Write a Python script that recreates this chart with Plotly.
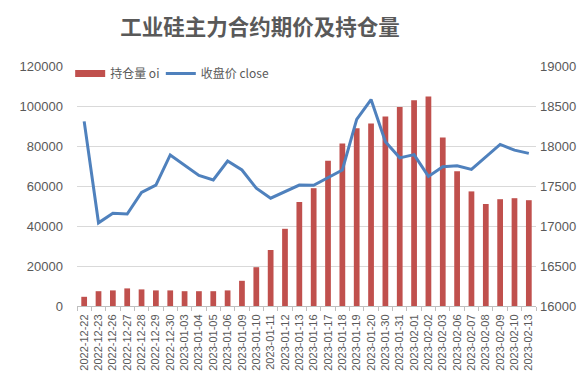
import plotly.graph_objects as go

dates = ["2022-12-22", "2022-12-23", "2022-12-26", "2022-12-27", "2022-12-28", "2022-12-29",
         "2022-12-30", "2023-01-03", "2023-01-04", "2023-01-05", "2023-01-06", "2023-01-09",
         "2023-01-10", "2023-01-11", "2023-01-12", "2023-01-13", "2023-01-16", "2023-01-17",
         "2023-01-18", "2023-01-19", "2023-01-20", "2023-01-30", "2023-01-31", "2023-02-01",
         "2023-02-02", "2023-02-03", "2023-02-06", "2023-02-07", "2023-02-08", "2023-02-09",
         "2023-02-10", "2023-02-13"]

oi = [4600, 7400, 7800, 8800, 8300, 7800, 7800, 7400, 7400, 7400, 7800, 12600,
      19400, 28000, 38600, 52000, 58900, 72600, 81300, 88900, 91300, 94700, 99500,
      102900, 104800, 84200, 67400, 57300, 51000, 53400, 53900, 52900]

close = [18308, 17040, 17160, 17150, 17420, 17512, 17888, 17756, 17632, 17576, 17812,
         17700, 17472, 17348, 17432, 17512, 17508, 17608, 17700, 18332, 18580, 18052,
         17852, 17892, 17620, 17740, 17752, 17708, 17868, 18020, 17948, 17908]

grey = "#595959"
bar_color = "#C0504D"
line_color = "#4F81BD"

fig = go.Figure()
fig.add_trace(go.Bar(x=dates, y=oi, name="持仓量 oi", marker_color=bar_color,
                     marker_line_width=0, yaxis="y", showlegend=False))
# legend-only entry for the bars (wide rectangle symbol as in the reference)
fig.add_trace(go.Scatter(x=[dates[0]], y=[None], name="持仓量 oi", mode="lines",
                         line=dict(color=bar_color, width=7), yaxis="y", legend="legend",
                         hoverinfo="skip"))
fig.add_trace(go.Scatter(x=dates, y=close, name="收盘价 close", mode="lines",
                         line=dict(color=line_color, width=3), yaxis="y2", legend="legend2"))

legend_common = dict(orientation="h", xanchor="left", yanchor="middle",
                     bgcolor="rgba(0,0,0,0)", itemwidth=30,
                     font=dict(size=12, color=grey, family="Noto Sans CJK SC, sans-serif"))

fig.update_layout(
    width=585, height=375,
    margin=dict(l=57, r=57, t=58, b=67),
    paper_bgcolor="white", plot_bgcolor="white",
    font=dict(family="Liberation Sans, Arial, sans-serif", color=grey, size=13),
    bargap=0.6,
    showlegend=True,
    legend=dict(x=(50 - 57) / 471, y=(308.3 - 66) / 250, **legend_common),
    legend2=dict(x=(143 - 57) / 471, y=(308.3 - 66) / 250, **legend_common),
    xaxis=dict(type="category", tickangle=-90, tickfont=dict(size=11, color=grey),
               showline=True, linecolor="#BFBFBF", linewidth=1, ticks="outside",
               tickson="boundaries", ticklen=4, tickcolor="#BFBFBF", showgrid=False,
               ticklabelstandoff=3),
    yaxis=dict(range=[0, 120000], dtick=20000, tickformat="d", showgrid=True,
               gridcolor="#D9D9D9", gridwidth=1, zeroline=False, showline=False,
               ticklabelstandoff=13, tickfont=dict(size=13, color=grey)),
    yaxis2=dict(range=[16000, 19000], dtick=500, tickformat="d", overlaying="y",
                side="right", showgrid=False, zeroline=False, showline=False,
                ticklabelstandoff=3, tickfont=dict(size=13, color=grey)),
    title=dict(text="<b>工业硅主力合约期价及持仓量</b>", x=252 / 585, xanchor="center",
               y=1 - 19 / 375, yanchor="middle",
               font=dict(size=21.5, color=grey, family="Noto Sans CJK SC, sans-serif")),
)

fig.write_html("out.html")
